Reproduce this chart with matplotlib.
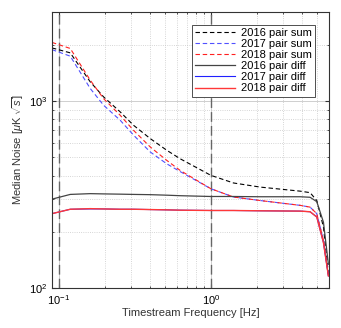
import numpy as np
import matplotlib
matplotlib.use('Agg')
import matplotlib.pyplot as plt

plt.rcParams['font.family'] = 'Liberation Sans'
plt.rcParams['mathtext.fontset'] = 'custom'
plt.rcParams['mathtext.rm'] = 'Liberation Sans'
plt.rcParams['mathtext.it'] = 'Liberation Sans:italic'

freq = [0.0899, 0.1187, 0.1607, 0.1967, 0.253, 0.31, 0.399, 0.513, 0.628, 1.0,
        1.41, 2.11, 3.87, 4.5, 4.98, 5.51, 5.94]

sum_2016 = [1930, 1816, 1270, 1055, 877, 743, 631, 546, 492, 401,
            365, 347, 330, 324, 294, 212, 119]
sum_2017 = [1890, 1743, 1170, 952, 791, 658, 535, 462, 420, 340,
            307, 294, 277, 271, 250, 180, 116]
sum_2018 = [2066, 1917, 1296, 1033, 841, 698, 569, 482, 426, 340,
            307, 294, 277, 271, 250, 180, 116]
diff_2016 = [299, 317, 320, 319, 318, 317, 316, 314, 312, 309,
             309, 308, 308, 306, 290, 225, 134]
diff_2017 = [250, 264, 265, 265, 264, 264, 263, 262, 261, 260,
             260, 259, 258, 256, 240, 175, 116]
diff_2018 = [250, 264, 266, 265, 264, 264, 263, 262, 261, 260,
             260, 259, 258, 256, 240, 175, 116]

fig = plt.figure(figsize=(3.41, 3.28), dpi=100)
ax = fig.add_axes([0.1525, 0.122, 0.8125, 0.841])

ax.axvline(0.1, color='#666666', linestyle=(0, (7, 3)), linewidth=1.0)
ax.axvline(1.0, color='#666666', linestyle=(0, (7, 3)), linewidth=1.0)

ax.plot(freq, sum_2016, color='black', linestyle=(0, (4, 2.5)), linewidth=0.8, label='2016 pair sum')
ax.plot(freq, sum_2017, color='#5050ff', linestyle=(0, (4, 2.5)), linewidth=0.8, label='2017 pair sum')
ax.plot(freq, sum_2018, color='#ff2020', linestyle=(0, (4, 2.5)), linewidth=0.8, label='2018 pair sum')
ax.plot(freq, diff_2016, color='#444444', linewidth=0.9, label='2016 pair diff')
ax.plot(freq, diff_2017, color='#2020ff', linewidth=0.8, label='2017 pair diff')
ax.plot(freq, diff_2018, color='#ff3838', linewidth=1.0, label='2018 pair diff')

ax.set_xscale('log')
ax.set_yscale('log')
ax.set_xlim(0.09, 6.0)
ax.set_ylim(100, 3000)

ax.grid(True, which='major', color='#c8c8c8', linewidth=0.6, linestyle='-')
ax.grid(True, which='minor', color='#c8c8c8', linewidth=0.6, linestyle=':')
ax.tick_params(which='both', direction='in', top=True, right=True, labelsize=8,
               color='#333333', length=3)
ax.tick_params(which='minor', length=1.5)
ax.yaxis.set_minor_formatter(matplotlib.ticker.NullFormatter())
ax.xaxis.set_minor_formatter(matplotlib.ticker.NullFormatter())
for s in ax.spines.values():
    s.set_color('#333333')
    s.set_linewidth(0.8)

ax.set_xlabel('Timestream Frequency [Hz]', fontsize=8, color='#333333', labelpad=1)
ax.set_ylabel(r'Median Noise [$\mu$K $\sqrt{s}$]', fontsize=8, color='#333333', labelpad=2)

leg = ax.legend(loc='upper right', bbox_to_anchor=(0.97, 0.975), fontsize=8,
                fancybox=False, edgecolor='#333333', framealpha=1, handlelength=3.6,
                borderpad=0.3, labelspacing=0.1, handletextpad=0.5)
leg.get_frame().set_linewidth(0.6)

fig.savefig('out.png', dpi=100)
